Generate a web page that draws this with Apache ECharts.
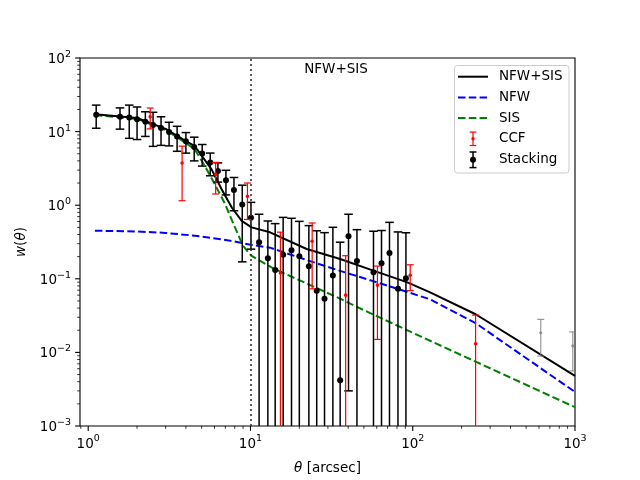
<!DOCTYPE html>
<html>
<head>
<meta charset="utf-8">
<script src="https://cdn.jsdelivr.net/npm/echarts@6/dist/echarts.min.js"></script>
<style>
  html, body { margin: 0; padding: 0; background: #fff; }
  #chart { width: 640px; height: 480px; }
</style>
</head>
<body>
<div id="chart"></div>
<script>
// stacking measurements (theta in arcsec, w, 1-sigma error)
const stackTheta = [1.12, 1.57, 1.79, 2.0, 2.25, 2.51, 2.81, 3.15, 3.53, 4.0, 4.5, 5.04, 5.65, 6.3, 7.06, 7.91, 8.9, 10.07,
  11.3, 12.8, 14.2, 15.9, 17.9, 20.0, 22.9, 25.6, 28.6, 32.2, 35.7, 40.2, 45.3, 57.3, 64.2, 71.9, 81.1, 90.8];
const stackW = [17.0, 15.9, 15.5, 14.7, 13.6, 12.3, 11.2, 9.9, 8.6, 7.4, 6.2, 5.04, 3.81, 2.91, 2.18, 1.61, 1.02, 0.673,
  0.313, 0.19, 0.132, 0.213, 0.244, 0.203, 0.148, 0.069, 0.0537, 0.111, 0.0042, 0.378, 0.175, 0.123, 0.163, 0.225, 0.0733, 0.102];
const stackErr = [5.9, 5.1, 7.4, 6.9, 5.0, 6.0, 4.7, 3.5, 3.2, 2.3, 2.2, 1.64, 1.3, 0.85, 0.8, 0.77, 0.85, 0.42,
  0.44, 0.42, 0.43, 0.47, 0.42, 0.40, 0.38, 0.38, 0.37, 0.39, 0.31, 0.375, 0.29, 0.32, 0.29, 0.36, 0.36, 0.32];

// cross-correlation points
const ccfTheta = [2.41, 3.79, 6.1, 9.58, 15.3, 24.0, 38.6, 60.6, 96.5, 244];
const ccfW = [15.9, 3.75, 2.62, 1.32, 0.12, 0.323, 0.06, 0.082, 0.112, 0.0131];
const ccfErr = [5.0, 2.6, 1.2, 0.68, 0.31, 0.25, 0.146, 0.067, 0.043, 0.019];

// grey points at large scales (not in legend)
const greyTheta = [615, 969];
const greyW = [0.0185, 0.0123];
const greyErr = [0.0096, 0.0067];

// model curves
const sumTheta = [1.1, 2.0, 3.0, 4.0, 4.54, 5.76, 6.64, 7.67, 8.83, 10.15, 13.2, 22.2, 35.7, 57.2, 91.9, 127, 244, 1000];
const sumW = [17.2, 15.3, 10.9, 7.4, 6.33, 3.07, 1.65, 0.93, 0.613, 0.5, 0.428, 0.254, 0.186, 0.129, 0.0902, 0.066, 0.033, 0.0048];
const nfwTheta = [1.1, 2.0, 3.0, 4.54, 7.5, 10.0, 13.2, 22.2, 35.7, 57, 127, 244, 1000];
const nfwW = [0.45, 0.44, 0.42, 0.385, 0.33, 0.29, 0.265, 0.18, 0.128, 0.093, 0.053, 0.025, 0.0029];
const sisTheta = [1.1, 2.0, 3.0, 4.0, 4.54, 5.24, 5.95, 6.9, 7.95, 8.98, 10.1, 13.8, 15.3, 35.7, 45.3, 111, 244, 1000];
const sisW = [16.8, 14.9, 10.5, 7.0, 5.71, 3.4, 2.03, 1.09, 0.525, 0.282, 0.206, 0.139, 0.125, 0.0537, 0.0415, 0.0166, 0.0075, 0.0018];

const legendNames = ['NFW+SIS', 'NFW', 'SIS', 'CCF', 'Stacking'];

const X_MIN = 0.89, X_MAX = 1000, Y_MIN = 1e-3, Y_MAX = 100;
const FONT = 'DejaVu Sans';
const FS = 13.5;
const DASH = [7.5, 3.3];

function zip(a, b, c) {
  return a.map((v, i) => c ? [v, b[i], c[i]] : [v, b[i]]);
}

function minorTicks(lo, hi) {
  const out = [];
  for (let d = Math.floor(Math.log10(lo)); d < Math.ceil(Math.log10(hi)); d++) {
    for (let k = 2; k <= 9; k++) {
      const v = k * Math.pow(10, d);
      if (v >= lo && v <= hi) out.push(v);
    }
  }
  return out;
}

function errorBars(color, radius, cap, width) {
  return function (params, api) {
    const t = api.value(0), w = api.value(1), e = api.value(2);
    const hasLow = w - e > 0;
    const top = api.coord([t, w + e]);
    const bot = api.coord([t, hasLow ? w - e : Y_MIN / 100]);
    const mid = api.coord([t, w]);
    const x = mid[0];
    const ln = (x1, y1, x2, y2) => ({
      type: 'line', shape: { x1, y1, x2, y2 },
      style: { stroke: color, lineWidth: width }
    });
    const kids = [ln(x, top[1], x, bot[1]), ln(x - cap, top[1], x + cap, top[1])];
    if (hasLow) kids.push(ln(x - cap, bot[1], x + cap, bot[1]));
    kids.push({ type: 'circle', shape: { cx: x, cy: mid[1], r: radius }, style: { fill: color } });
    return { type: 'group', children: kids };
  };
}

function tickRender(horizontal) {
  return function (params, api) {
    const p = api.coord([api.value(0), api.value(1)]);
    const len = api.value(2);
    const shape = horizontal
      ? { x1: p[0], y1: p[1], x2: p[0], y2: p[1] + len }
      : { x1: p[0], y1: p[1], x2: p[0] - len, y2: p[1] };
    return { type: 'line', shape, style: { stroke: '#000', lineWidth: len > 4 ? 1.1 : 0.8 } };
  };
}

const xTickData = [1, 10, 100, 1000].map(v => [v, Y_MIN, 4.9])
  .concat(minorTicks(X_MIN, X_MAX).map(v => [v, Y_MIN, 2.8]));
const yTickData = [1e-3, 1e-2, 1e-1, 1, 10, 100].map(v => [X_MIN, v, 4.9])
  .concat(minorTicks(Y_MIN, Y_MAX).map(v => [X_MIN, v, 2.8]));

function powLabel(v) {
  const e = Math.round(Math.log10(v));
  return '{b|10}{e|' + (e < 0 ? '\u2212' + (-e) : e) + '}';
}
const powRich = {
  b: { fontSize: FS, fontFamily: FONT, color: '#000', lineHeight: 20 },
  e: { fontSize: 9.5, fontFamily: FONT, color: '#000', lineHeight: 10, verticalAlign: 'top' }
};

// legend drawn as graphics, matplotlib style
const legRows = [76.7, 97.5, 118, 138.8, 159.8];
const legend = [{
  type: 'rect', z: 100,
  shape: { x: 454.5, y: 65.5, width: 114.5, height: 107.5, r: 3 },
  style: { fill: 'rgba(255,255,255,0.8)', stroke: '#cccccc', lineWidth: 1 }
}];
const lineLeg = [['#000000', null], ['#0000ff', DASH], ['#008000', DASH]];
lineLeg.forEach((s, i) => {
  legend.push({
    type: 'line', z: 101,
    shape: { x1: 458, y1: legRows[i], x2: 488, y2: legRows[i] },
    style: { stroke: s[0], lineWidth: 2, lineDash: s[1] }
  });
});
[['#ff0000', 6.7, 3.3, 1.7, 1.2], ['#000000', 7.8, 3.5, 3, 1.5]].forEach((s, j) => {
  const y = legRows[3 + j], x = 473;
  const st = { stroke: s[0], lineWidth: s[4] };
  legend.push({ type: 'line', z: 101, shape: { x1: x, y1: y - s[1], x2: x, y2: y + s[1] }, style: st });
  legend.push({ type: 'line', z: 101, shape: { x1: x - s[2], y1: y - s[1], x2: x + s[2], y2: y - s[1] }, style: st });
  legend.push({ type: 'line', z: 101, shape: { x1: x - s[2], y1: y + s[1], x2: x + s[2], y2: y + s[1] }, style: st });
  legend.push({ type: 'circle', z: 101, shape: { cx: x, cy: y, r: s[3] }, style: { fill: s[0] } });
});
legendNames.forEach((n, i) => {
  legend.push({
    type: 'text', z: 101, x: 499, y: legRows[i],
    style: { text: n, font: FS + 'px ' + FONT, fill: '#000', textVerticalAlign: 'middle' }
  });
});
legend.push({
  type: 'text', x: 336, y: 69,
  style: { text: 'NFW+SIS', font: FS + 'px ' + FONT, fill: '#000', textAlign: 'center', textVerticalAlign: 'middle' }
});

const chart = echarts.init(document.getElementById('chart'));
chart.setOption({
  animation: false,
  grid: { left: 80, right: 65, top: 58, bottom: 52, show: true, borderColor: '#000', borderWidth: 1.1 },
  xAxis: {
    type: 'log', logBase: 10, min: X_MIN, max: X_MAX,
    name: '{i|\u03b8} [arcsec]', nameLocation: 'middle', nameGap: 35,
    nameTextStyle: { fontSize: FS, fontFamily: FONT, color: '#000', rich: { i: { fontStyle: 'italic', fontSize: FS, fontFamily: FONT } } },
    axisLine: { show: false },
    axisTick: { show: false },
    splitLine: { show: false },
    axisLabel: { showMinLabel: false, margin: 8, formatter: powLabel, rich: powRich }
  },
  yAxis: {
    type: 'log', logBase: 10, min: Y_MIN, max: Y_MAX,
    name: '{i|w}({i|\u03b8})', nameLocation: 'middle', nameGap: 50,
    nameTextStyle: { fontSize: FS, fontFamily: FONT, color: '#000', rich: { i: { fontStyle: 'italic', fontSize: FS, fontFamily: FONT } } },
    axisLine: { show: false },
    axisTick: { show: false },
    splitLine: { show: false },
    axisLabel: { margin: 9, formatter: powLabel, rich: powRich, padding: [3, 0, 0, 0] }
  },
  graphic: legend,
  series: [
    {
      type: 'line', name: 'NFW', data: zip(nfwTheta, nfwW), showSymbol: false, z: 2,
      lineStyle: { color: '#0000ff', width: 2, type: DASH }
    },
    {
      type: 'line', name: 'SIS', data: zip(sisTheta, sisW), showSymbol: false, z: 2,
      lineStyle: { color: '#008000', width: 2, type: DASH }
    },
    {
      type: 'line', name: 'NFW+SIS', data: zip(sumTheta, sumW), showSymbol: false, z: 2,
      lineStyle: { color: '#000000', width: 2 },
      markLine: {
        silent: true, symbol: 'none', label: { show: false },
        lineStyle: { color: '#333333', width: 1.6, type: [2, 3] },
        data: [{ xAxis: 10 }]
      }
    },
    { type: 'custom', name: 'Stacking', data: zip(stackTheta, stackW, stackErr), renderItem: errorBars('#000000', 3, 4.3, 1.5), clip: true, z: 4 },
    { type: 'custom', name: 'CCF', data: zip(ccfTheta, ccfW, ccfErr), renderItem: errorBars('#ff0000', 1.8, 3.5, 1.2), clip: true, z: 5 },
    { type: 'custom', name: 'grey', data: zip(greyTheta, greyW, greyErr), renderItem: errorBars('rgba(128,128,128,0.8)', 1.6, 3.5, 1.2), clip: true, z: 5 },
    { type: 'custom', name: 'xticks', data: xTickData, renderItem: tickRender(true), clip: false, silent: true, z: 6 },
    { type: 'custom', name: 'yticks', data: yTickData, renderItem: tickRender(false), clip: false, silent: true, z: 6 }
  ]
});
</script>
</body>
</html>
